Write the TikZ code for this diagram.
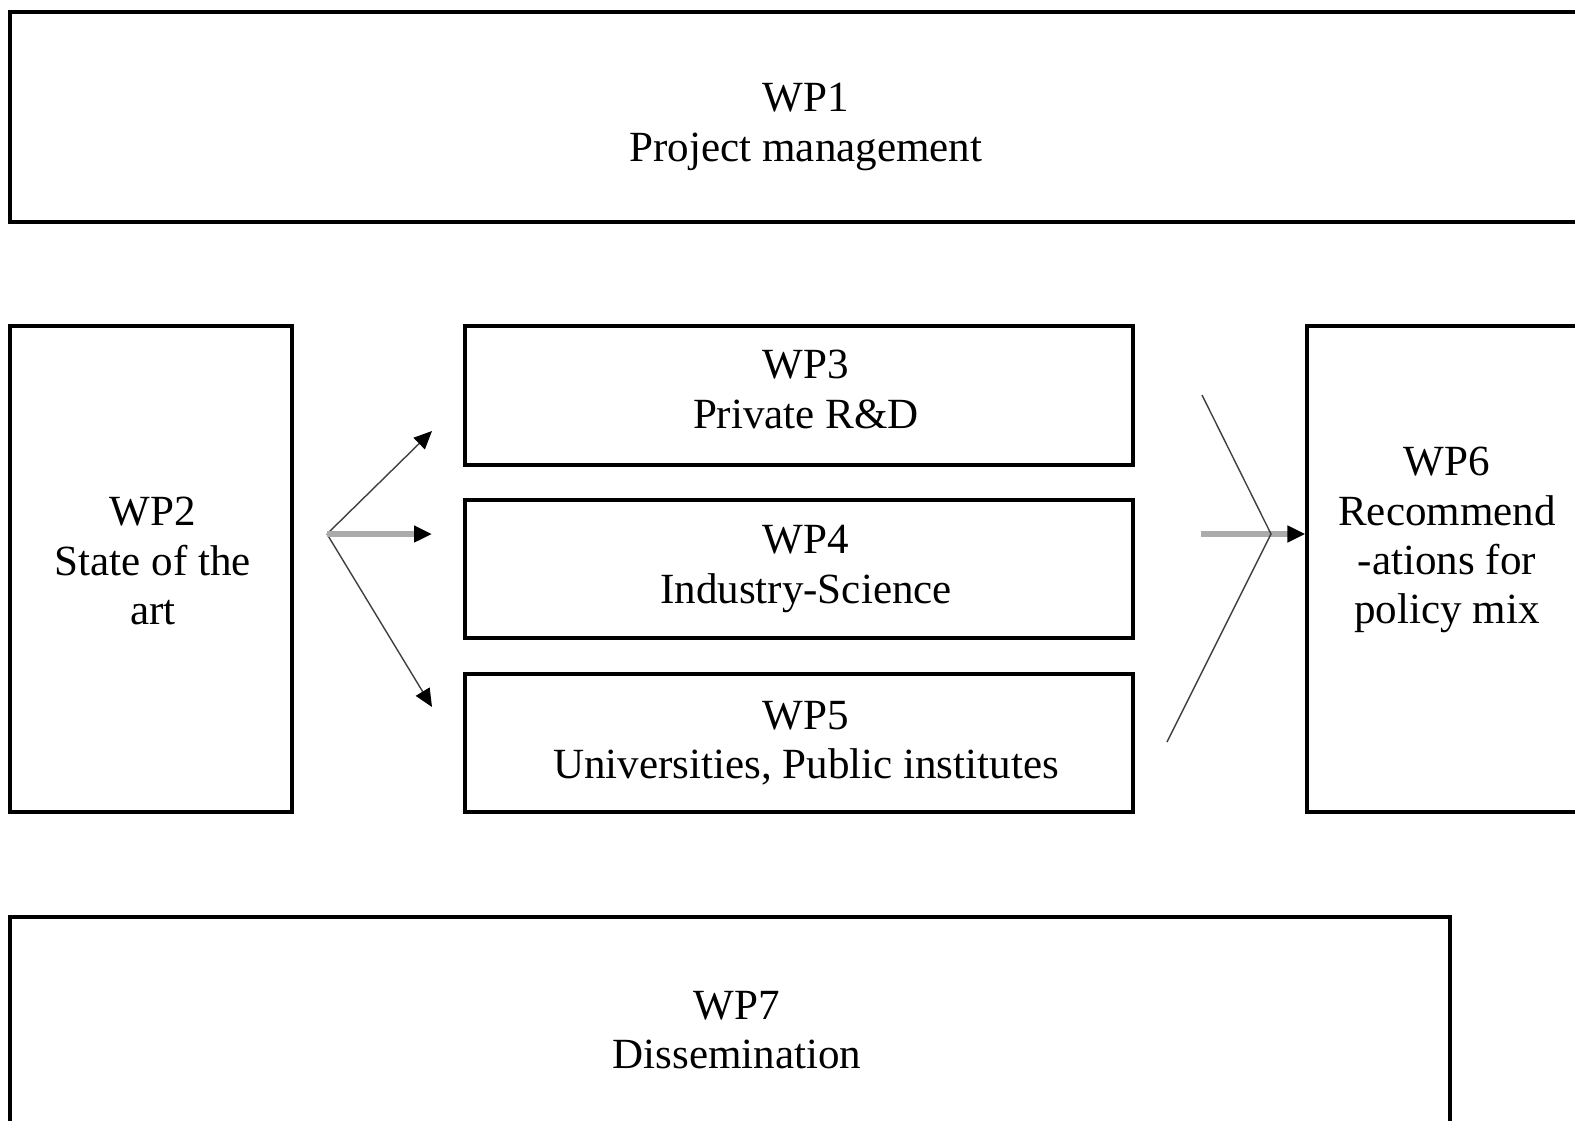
\documentclass[tikz,border=0pt]{standalone}
\usepackage{fontspec}
\setmainfont{Liberation Serif}
\usetikzlibrary{arrows.meta}

\begin{document}
\begin{tikzpicture}[
    wpbox/.style={draw, line width=1.8pt, inner sep=0pt},
    wptext/.style={align=center, inner sep=0pt, font=\fontsize{24.5}{28}\selectfont},
    thin/.style={draw=black!75, line width=0.8pt},
    greyline/.style={draw=black!33, line width=3.2pt},
    tip/.style={-{Triangle[color=black, length=0.36cm, width=0.32cm]}}
  ]

    \useasboundingbox (0,0) rectangle (31.5,-22.4);

    % -- Work packages --
    \node[wpbox, minimum width=31.76cm, minimum height=4.2cm] (wpone) at (16.08,-2.34) {};
    \node[wpbox, minimum width=5.64cm, minimum height=9.72cm] (wptwo) at (3.02,-11.38) {};
    \node[wpbox, minimum width=13.36cm, minimum height=2.78cm] (wpthree) at (15.98,-7.91) {};
    \node[wpbox, minimum width=13.36cm, minimum height=2.76cm] (wpfour) at (15.98,-11.38) {};
    \node[wpbox, minimum width=13.36cm, minimum height=2.76cm] (wpfive) at (15.98,-14.86) {};
    \node[wpbox, minimum width=5.6cm, minimum height=9.72cm] (wpsix) at (28.94,-11.38) {};
    \node[wpbox, minimum width=28.8cm, minimum height=4.52cm] (wpseven) at (14.6,-20.6) {};

    % -- Labels --
    \node[wptext] (wponetext) at ([shift={(0.04,-0.2)}]wpone.center) {WP1\\Project management};
    \node[wptext] (wptwotext) at ([shift={(0.04,0.16)}]wptwo.center) {WP2\\State of the\\art};
    \node[wptext] (wpthreetext) at ([shift={(0.14,0.12)}]wpthree.center) {WP3\\Private R\&D};
    \node[wptext] (wpfourtext) at ([xshift=0.14cm]wpfour.center) {WP4\\Industry-Science};
    \node[wptext] (wpfivetext) at ([xshift=0.14cm]wpfive.center) {WP5\\Universities, Public institutes};
    \node[wptext] (wpsixtext) at ([yshift=0.58cm]wpsix.center) {WP6\\Recommend\\-ations for\\policy mix};
    \node[wptext] (wpseventext) at ([xshift=0.14cm]wpseven.center) {WP7\\Dissemination};

    % -- Fan out of WP2 --
    \coordinate (fanout) at (6.54,-10.68);
    \coordinate (tothree) at (8.64,-8.62);
    \coordinate (tofour) at (8.64,-10.68);
    \coordinate (tofive) at (8.64,-14.14);

    \draw[thin, tip] (fanout) -- (tothree);
    \draw[thin, tip] (fanout) -- (tofive);
    \draw[greyline, tip] (fanout) -- (tofour);

    % -- Fan in to WP6 --
    \coordinate (fromthree) at (24.04,-7.9);
    \coordinate (fromfour) at (24.02,-10.68);
    \coordinate (fromfive) at (23.34,-14.84);
    \coordinate (fanin) at (25.42,-10.68);

    \draw[greyline, tip] (fromfour) -- (wpsix.west |- fromfour);
    \draw[thin] (fromthree) -- (fanin) -- (fromfive);
\end{tikzpicture}
\end{document}
